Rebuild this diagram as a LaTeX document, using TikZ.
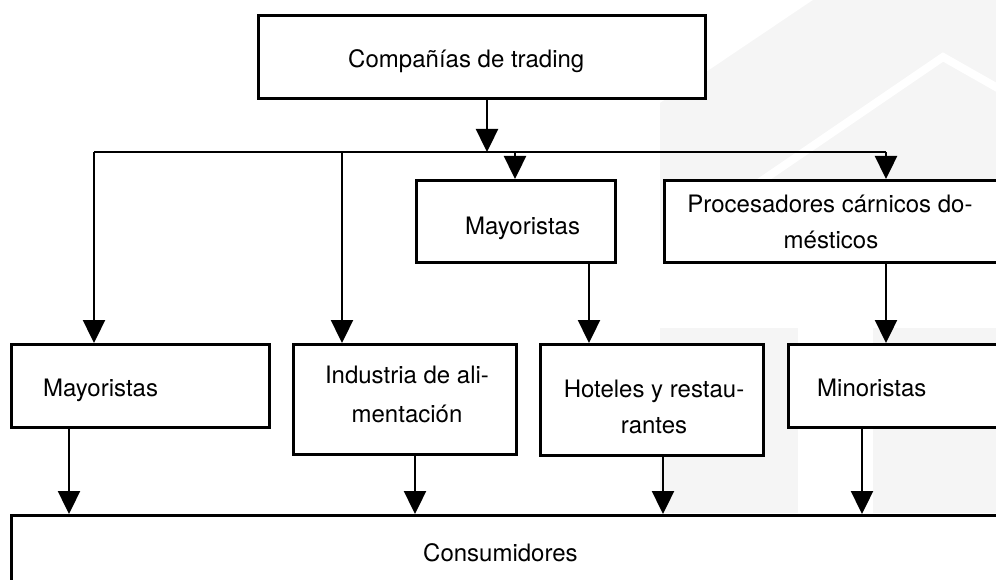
\documentclass[tikz,border=0pt]{standalone}
\usepackage{fontspec}
\setmainfont{TeX Gyre Heros}
\usetikzlibrary{arrows.meta}
\begin{document}
\begin{tikzpicture}[x=1pt,y=-1pt,
  box/.style={draw=black, line width=2.8pt, fill=white, inner sep=0pt, anchor=north west},
  lbl/.style={anchor=base west, inner sep=0pt, font=\fontsize{24}{29}\selectfont},
  lblc/.style={anchor=base, inner sep=0pt, font=\fontsize{24}{29}\selectfont},
  wire/.style={line width=2.4pt},
  conn/.style={line width=2.4pt, -{Triangle[width=22pt,length=23pt]}},
  wm/.style={fill=black!4, draw=none}]
\useasboundingbox (0,0) rectangle (996,580);
\clip (0,0) rectangle (996,580);
% faint watermark
\fill[wm] (660,240) -- (660,103) -- (813,0) -- (996,0) -- (996,240) -- cycle;
\draw[white, line width=8pt] (650,257) -- (943,57) -- (1010,95);
\fill[wm] (660,328) rectangle (798,513);
\fill[wm] (873,328) rectangle (996,513);
% boxes
\node[box, minimum width=447pt, minimum height=83pt] (top) at (257,14) {};
\node[box, minimum width=199pt, minimum height=82pt] (may2) at (415,179) {};
\node[box, minimum width=360pt, minimum height=82pt] (proc) at (663,179) {};
\node[box, minimum width=258pt, minimum height=83pt] (may1) at (10,343) {};
\node[box, minimum width=223pt, minimum height=110pt] (ind) at (292,343) {};
\node[box, minimum width=223pt, minimum height=111pt] (hot) at (539,343) {};
\node[box, minimum width=230pt, minimum height=83pt] (mino) at (787,343) {};
\node[box, minimum width=1000pt, minimum height=100pt] (cons) at (10,514) {};
% labels
\node[lbl] (ttop) at (348,68) {Compañías de trading};
\node[lbl] (tmay2) at (465,235) {Mayoristas};
\node[lblc] (tproca) at (830,213) {Procesadores cárnicos do-};
\node[lblc] (tprocb) at (831,248) {mésticos};
\node[lbl] (tmay1) at (43,396) {Mayoristas};
\node[lblc] (tinda) at (407,383) {Industria de ali-};
\node[lblc] (tindb) at (407,422) {mentación};
\node[lblc] (thota) at (654,397) {Hoteles y restau-};
\node[lblc] (thotb) at (654,433) {rantes};
\node[lbl] (tmino) at (817,396) {Minoristas};
\node[lbl] (tcons) at (423,561) {Consumidores};
% bus
\coordinate (busT) at (487,152);
\coordinate (busL) at (94,152);
\coordinate (busI) at (342,152);
\coordinate (busM) at (515,152);
\coordinate (busR) at (886,152);
\draw[conn] (top.south -| busT) -- (busT);
\draw[wire] (busL) -- (busR);
\draw[conn] (busL) -- (may1.north -| busL);
\draw[conn] (busI) -- (ind.north -| busI);
\draw[conn] (busM) -- (may2.north -| busM);
\draw[conn] (busR) -- (proc.north -| busR);
% second level
\draw[conn] (may2.south -| 589,0) -- (hot.north -| 589,0);
\draw[conn] (proc.south -| 886,0) -- (mino.north -| 886,0);
% to consumers
\draw[conn] (may1.south -| 69,0) -- (cons.north -| 69,0);
\draw[conn] (ind.south -| 415,0) -- (cons.north -| 415,0);
\draw[conn] (hot.south -| 663,0) -- (cons.north -| 663,0);
\draw[conn] (mino.south -| 862,0) -- (cons.north -| 862,0);
\end{tikzpicture}
\end{document}
